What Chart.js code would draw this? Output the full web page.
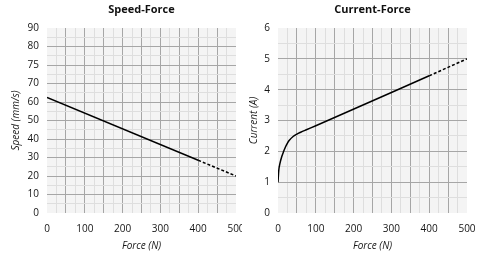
<!DOCTYPE html>
<html>
<head>
<meta charset="utf-8">
<script src="https://cdn.jsdelivr.net/npm/chart.js@4/dist/chart.umd.min.js"></script>
<style>
  html, body { margin: 0; padding: 0; background: #fff; }
  .row { display: flex; width: 484px; height: 256px; }
  canvas { display: block; }
</style>
</head>
<body>
<div class="row">
  <canvas id="speed" width="242" height="256"></canvas>
  <canvas id="current" width="242" height="256"></canvas>
</div>
<script>
// Speed-Force: force (N) vs speed (mm/s); measured part solid, extrapolation dotted
const SPEED_FORCE_SOLID  = [0, 400];
const SPEED_SOLID        = [62.5, 28.5];
const SPEED_FORCE_DOTTED = [400, 500];
const SPEED_DOTTED       = [28.5, 20];
// tick labels as printed on the reference (one per 10 units, note the "75")
const SPEED_TICK_LABELS  = ['0', '10', '20', '30', '40', '50', '60', '70', '75', '80', '90'];

// Current-Force
const CURRENT_FORCE_SOLID  = [0, 2, 5, 10, 15, 20, 25, 30, 40, 50, 60, 75, 100, 400];
const CURRENT_SOLID        = [1.0, 1.38, 1.6, 1.83, 2.0, 2.15, 2.27, 2.36, 2.48, 2.56, 2.62, 2.7, 2.83, 4.45];
const CURRENT_FORCE_DOTTED = [400, 500];
const CURRENT_DOTTED       = [4.45, 5.0];

const FONT = "'Open Sans', 'DejaVu Sans', sans-serif";
const TEXT = '#151515';
const MAJOR = '#a6a6a6';
const MINOR = '#dedede';

const toPoints = (xs, ys) => xs.map((x, i) => ({ x, y: ys[i] }));

// light grey plot background
const plotBg = {
  id: 'plotBg',
  beforeDraw(chart) {
    const { ctx, chartArea: a } = chart;
    ctx.save();
    ctx.fillStyle = '#f4f4f4';
    ctx.fillRect(a.left, a.top, a.right - a.left, a.bottom - a.top);
    ctx.restore();
  },
};

function gridColor(min, max, majorStep) {
  return ctx => {
    const v = ctx.tick.value;
    if (Math.abs(v - min) < 1e-9 || Math.abs(v - max) < 1e-9) return 'rgba(0,0,0,0)';
    const r = v / majorStep;
    return Math.abs(r - Math.round(r)) < 1e-6 ? MAJOR : MINOR;
  };
}

function buildChart(canvas, cfg) {
  return new Chart(canvas.getContext('2d'), {
    type: 'scatter',
    data: {
      datasets: [
        { data: cfg.solid, showLine: true, borderColor: '#000', borderWidth: 1.5, pointRadius: 0,
          cubicInterpolationMode: 'monotone' },
        { data: cfg.dotted, showLine: true, borderColor: '#000', borderWidth: 1.5, pointRadius: 0,
          borderDash: [3, 2] },
      ],
    },
    options: {
      responsive: false,
      animation: false,
      layout: { padding: { left: 0, right: cfg.padRight, top: 0, bottom: 0 } },
      plugins: {
        legend: { display: false },
        tooltip: { enabled: false },
        title: {
          display: true, text: cfg.title, color: '#111', fullSize: false,
          font: { family: FONT, size: 11, weight: 'bold' },
          padding: { top: 3, bottom: 11.8 },
        },
      },
      scales: {
        x: {
          type: 'linear', min: 0, max: 500,
          afterFit: s => { s.height = 43; s.paddingLeft = 0; s.paddingRight = 0; },
          border: { display: false },
          grid: { color: gridColor(0, 500, 50), drawTicks: false, lineWidth: 1 },
          ticks: {
            stepSize: 25, autoSkip: false, maxRotation: 0, padding: 10, color: TEXT,
            font: { family: FONT, size: 10 },
            callback: v => (v % 100 === 0 ? String(v) : ''),
          },
          title: { display: true, text: 'Force (N)', color: TEXT,
            font: { family: FONT, size: 10, style: 'italic' }, padding: { top: 0, bottom: 4 } },
        },
        y: {
          type: 'linear', min: 0, max: cfg.yMax,
          afterFit: s => { s.width = cfg.yWidth; s.paddingTop = 0; s.paddingBottom = 0; },
          border: { display: false },
          grid: { color: gridColor(0, cfg.yMax, cfg.yMajor), drawTicks: false, lineWidth: 1 },
          ticks: {
            stepSize: cfg.yMajor / 2, autoSkip: false, padding: 8, color: TEXT,
            font: { family: FONT, size: 10 },
            callback: cfg.yLabel,
          },
          title: { display: true, text: cfg.yTitle, color: TEXT,
            font: { family: FONT, size: 10, style: 'italic' }, padding: { top: cfg.yTitlePad, bottom: 0 } },
        },
      },
    },
    plugins: [plotBg],
  });
}

buildChart(document.getElementById('speed'), {
  title: 'Speed-Force',
  solid: toPoints(SPEED_FORCE_SOLID, SPEED_SOLID),
  dotted: toPoints(SPEED_FORCE_DOTTED, SPEED_DOTTED),
  yMax: 100, yMajor: 10, yWidth: 47, padRight: 6, yTitlePad: 10,
  yTitle: 'Speed (mm/s)',
  yLabel: v => (v % 10 === 0 ? SPEED_TICK_LABELS[v / 10] : ''),
});

buildChart(document.getElementById('current'), {
  title: 'Current-Force',
  solid: toPoints(CURRENT_FORCE_SOLID, CURRENT_SOLID),
  dotted: toPoints(CURRENT_FORCE_DOTTED, CURRENT_DOTTED),
  yMax: 6, yMajor: 1, yWidth: 36, padRight: 17, yTitlePad: 6,
  yTitle: 'Current (A)',
  yLabel: v => (Number.isInteger(v) ? String(v) : ''),
});
</script>
</body>
</html>
